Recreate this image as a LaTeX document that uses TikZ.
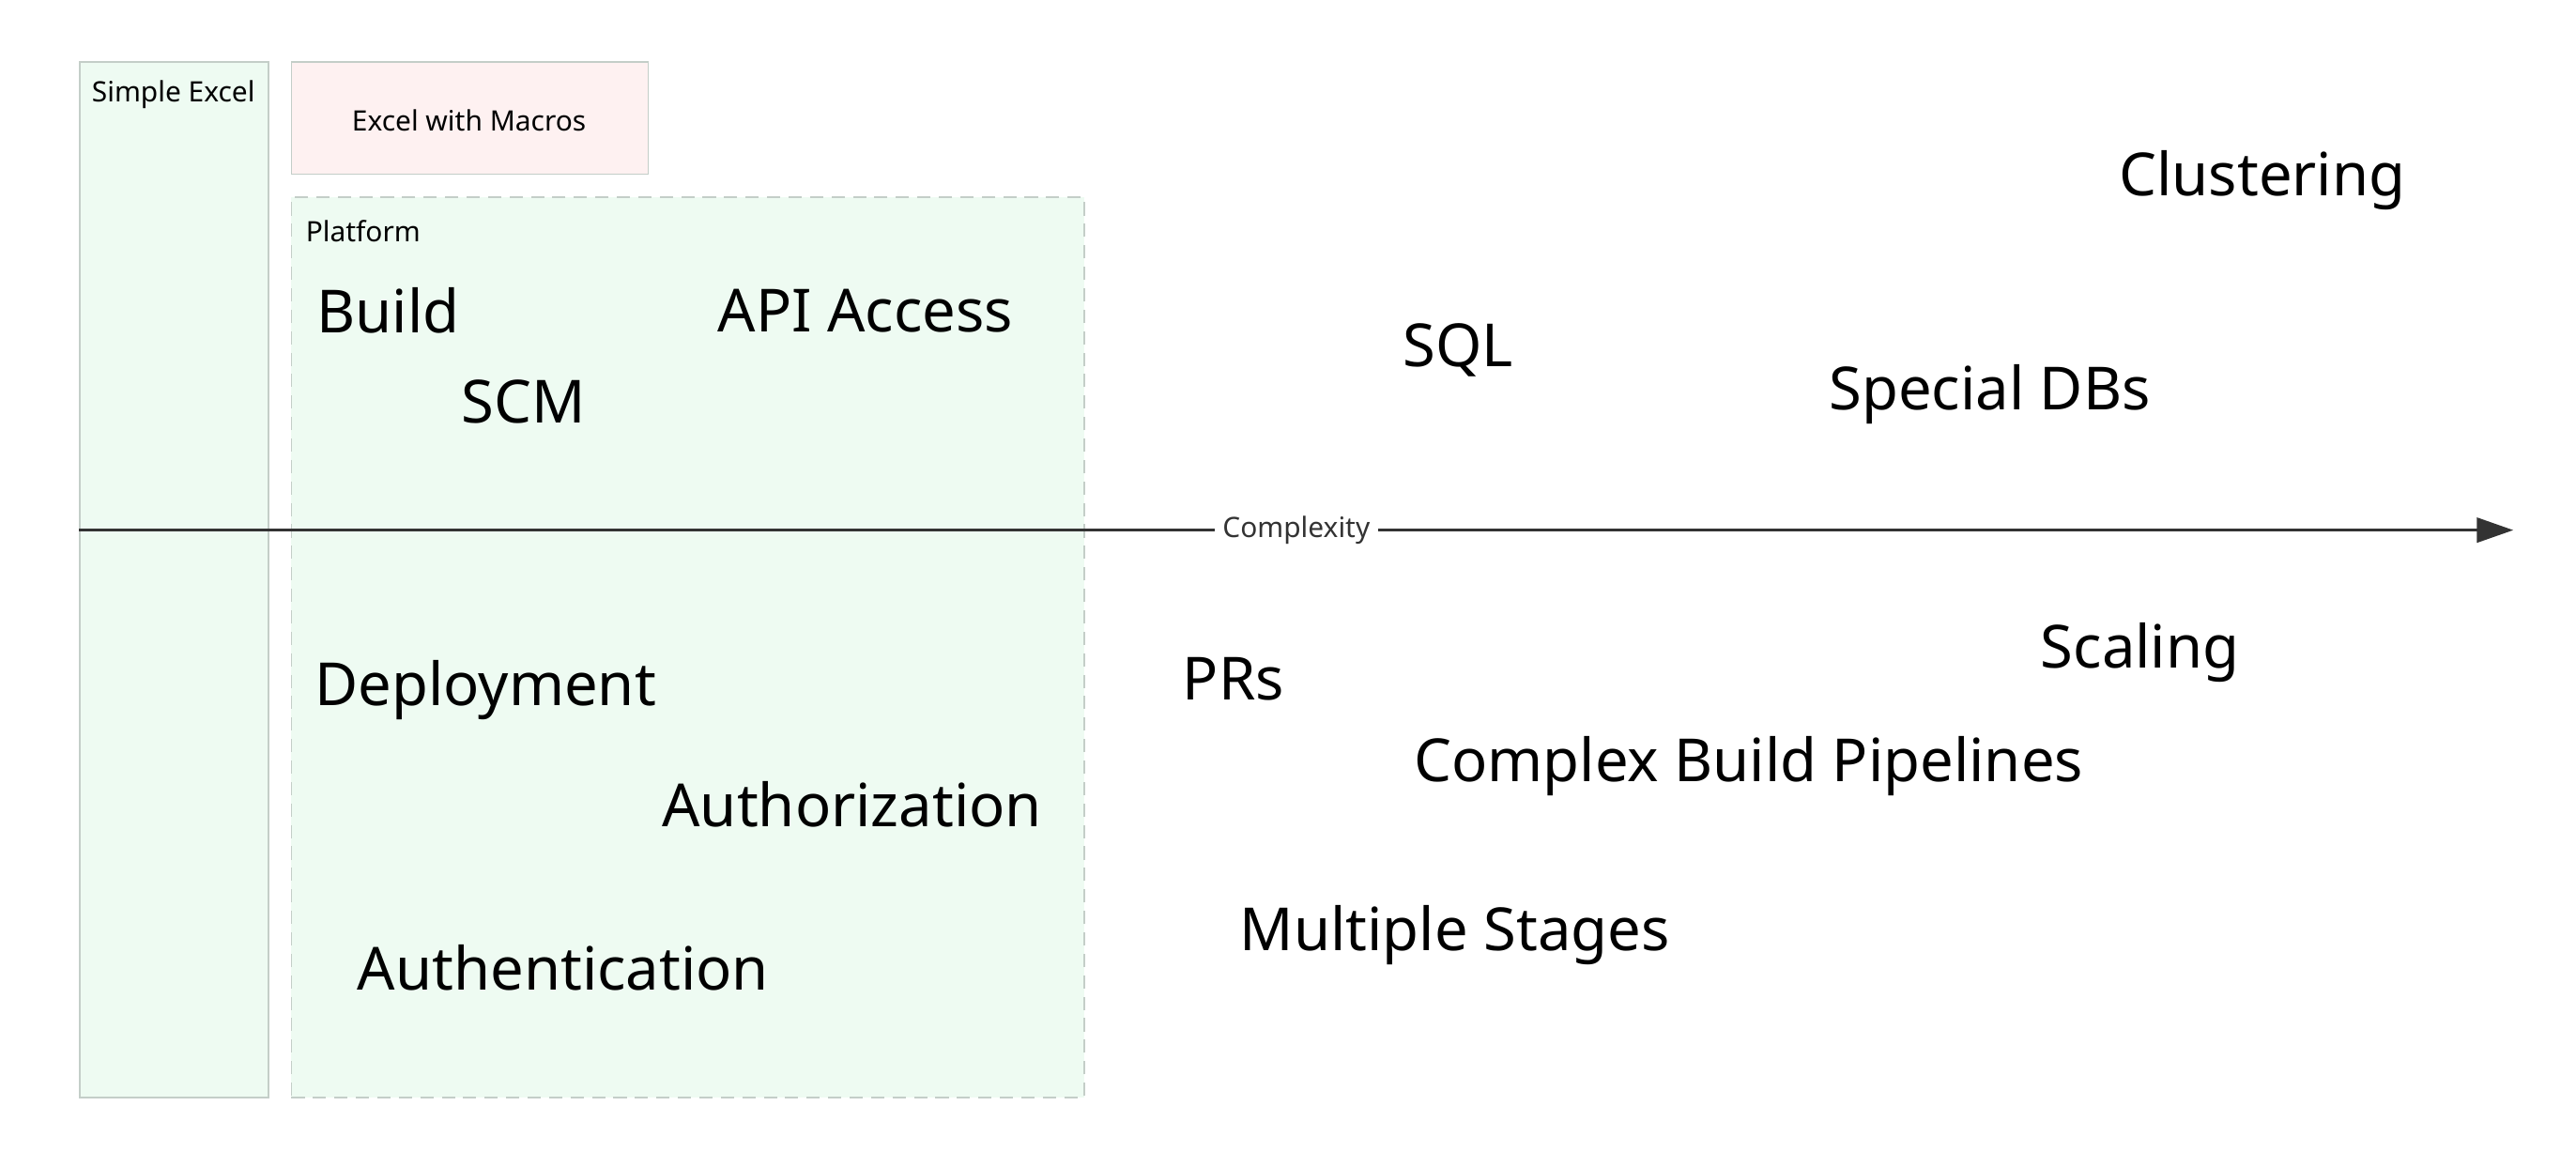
\documentclass[tikz,border=0pt]{standalone}
\usepackage{fontspec}
\setmainfont{Noto Sans}
\usetikzlibrary{arrows.meta}
\definecolor{boxgreen}{HTML}{EEFBF2}
\definecolor{boxpink}{HTML}{FEF1F1}
\definecolor{edgegray}{HTML}{C4CEC8}
\definecolor{axis}{HTML}{333333}
\begin{document}
\begin{tikzpicture}[x=1pt,y=-1pt,
  big/.style={font=\fontsize{36}{40}\selectfont,inner sep=0pt},
  small/.style={font=\fontsize{17}{20}\selectfont,inner sep=1pt}]
\useasboundingbox (0,0) rectangle (1560,697);
\node[draw=edgegray,fill=boxgreen,minimum width=114pt,minimum height=627pt,anchor=north west,line width=1pt] (se) at (48,37) {};
\node[small] (sel) at (105,57) {Simple Excel};
\node[draw=edgegray,fill=boxpink,minimum width=216pt,minimum height=68pt,anchor=north west,line width=1pt] (em) at (176,37) {};
\node[small] (eml) at (284,73) {Excel with Macros};
\node[draw=edgegray,dashed,dash pattern=on 8pt off 5pt,fill=boxgreen,minimum width=480pt,minimum height=545pt,anchor=north west,line width=1pt] (pf) at (176,119) {};
\node[small,anchor=west] (pfl) at (184,140) {Platform};
\coordinate (a0) at (48,321);
\coordinate (a1) at (1522,321);
\draw[axis,line width=1.5pt,-{Triangle[length=22pt,width=15pt]}] (a0) -- (a1) node[pos=0.5,small,fill=white,text=axis,inner sep=5pt] (cx) {Complexity};
\node[big] (n1) at (235,188) {Build};
\node[big] (n2) at (524,188) {API Access};
\node[big] (n3) at (317,243) {SCM};
\node[big] (n4) at (883,212) {SQL};
\node[big] (n5) at (1205,239) {Special DBs};
\node[big] (n6) at (1370,109) {Clustering};
\node[big] (n7) at (294,418) {Deployment};
\node[big] (n8) at (516,487) {Authorization};
\node[big] (n9) at (341,586) {Authentication};
\node[big] (n10) at (747,411) {PRs};
\node[big] (n11) at (1059,464) {Complex Build Pipelines};
\node[big] (n12) at (1296,395) {Scaling};
\node[big] (n13) at (881,566) {Multiple Stages};
\end{tikzpicture}
\end{document}
